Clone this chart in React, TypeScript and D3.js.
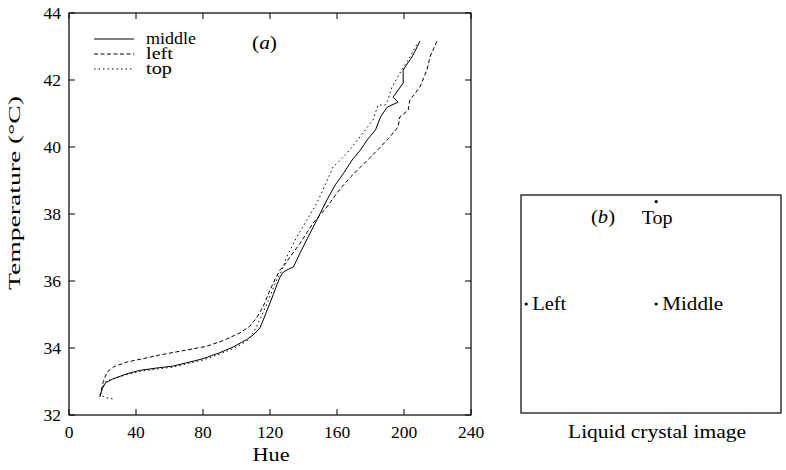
import React from "react";
import * as d3 from "d3";

const xTicks = [0, 40, 80, 120, 160, 200, 240];
const yTicks = [32, 34, 36, 38, 40, 42, 44];

const middleHue = [18.5, 20, 22, 26, 34, 42, 52, 62, 72, 80, 90, 98, 106, 110, 114, 116, 119, 122, 124.2, 126, 128, 131, 134, 138, 142.7, 148, 154, 159, 164, 169, 174, 178, 183, 186, 190, 196.5, 193.5, 199.5, 199.5, 204.8, 207, 209.5];
const middleTemp = [32.55, 32.8, 32.97, 33.07, 33.22, 33.33, 33.4, 33.46, 33.58, 33.68, 33.86, 34.03, 34.25, 34.39, 34.6, 34.84, 35.22, 35.6, 35.9, 36.12, 36.27, 36.35, 36.42, 36.84, 37.31, 37.82, 38.42, 38.87, 39.22, 39.61, 39.91, 40.21, 40.51, 40.9, 41.19, 41.34, 41.49, 41.91, 42.3, 42.69, 42.9, 43.16];

const leftHue = [18.5, 19.5, 20.5, 22.7, 27, 34.6, 44, 54, 68, 82, 92, 102, 108, 112, 116, 120, 123, 126, 129, 132, 138, 145.7, 154, 160, 163, 168, 174, 180, 186, 191.5, 196.5, 197.5, 202.5, 203.5, 209.5, 213.7, 215.5, 219.7];
const leftTemp = [32.55, 32.8, 33.0, 33.28, 33.45, 33.58, 33.68, 33.79, 33.92, 34.05, 34.22, 34.45, 34.65, 34.9, 35.25, 35.73, 36.05, 36.33, 36.5, 36.72, 37.13, 37.73, 38.21, 38.63, 38.81, 39.1, 39.4, 39.7, 40.0, 40.3, 40.6, 40.9, 41.1, 41.4, 41.79, 42.3, 42.69, 43.16];

const topHue = [26, 22, 18.5, 20, 22, 26, 34, 42, 52, 62, 72, 80, 90, 98, 106, 110, 114, 118, 122, 124.5, 127, 130, 136, 142, 148, 151.6, 157.6, 166, 173.7, 181.5, 184.5, 188.7, 190.4, 192.8, 197.6, 203.6, 208.4];
const topTemp = [32.48, 32.52, 32.6, 32.85, 33.0, 33.08, 33.2, 33.3, 33.37, 33.43, 33.55, 33.64, 33.82, 33.98, 34.2, 34.45, 34.85, 35.3, 35.8, 36.1, 36.3, 36.72, 37.31, 37.82, 38.33, 38.72, 39.4, 39.82, 40.3, 40.81, 41.25, 41.25, 41.4, 41.79, 42.21, 42.69, 43.13];

const seriesNames = ["middle", "left", "top"];
const seriesDash = ["none", "4,2.5", "1.5,3"];
const legendWidths = [50, 27, 26];

const crystalPoints = ["Top", "Left", "Middle"];
const crystalX = [0.52, 0.02, 0.52];
const crystalY = [0.03, 0.5, 0.5];
const crystalWidths = [31, 34, 61];

const FONT = "Liberation Serif, Times New Roman, Times, DejaVu Serif, serif";

export default function App() {
  const left = 69, right = 471, top = 13, bottom = 415;
  const x = d3.scaleLinear().domain([0, 240]).range([left, right]);
  const y = d3.scaleLinear().domain([32, 44]).range([bottom, top]);
  const line = d3.line<[number, number]>().x(d => x(d[0])).y(d => y(d[1]));
  const series = [
    { hue: middleHue, temp: middleTemp },
    { hue: leftHue, temp: leftTemp },
    { hue: topHue, temp: topTemp },
  ];
  const tick = 6;

  const bx0 = 521, bx1 = 781, by0 = 195, by1 = 413;
  const bxs = d3.scaleLinear().domain([0, 1]).range([bx0, bx1]);
  const bys = d3.scaleLinear().domain([0, 1]).range([by0, by1]);
  const ts = { fontFamily: FONT };

  return (
    <svg width={786} height={470} style={{ position: "absolute", left: 0, top: 0, background: "#fff", fontFamily: FONT }}>
      <rect x={0} y={0} width={786} height={470} fill="#fff" />
      <rect x={left} y={top} width={right - left} height={bottom - top} fill="none" stroke="#000" strokeWidth={1.2} />
      {xTicks.map(t => (
        <g key={"xt" + t}>
          <line x1={x(t)} x2={x(t)} y1={bottom} y2={bottom - tick} stroke="#000" strokeWidth={1} />
          <line x1={x(t)} x2={x(t)} y1={top} y2={top + tick} stroke="#000" strokeWidth={1} />
          <text x={x(t)} y={438} textAnchor="middle" fontSize={17.5} fill="#000" style={ts}>{t}</text>
        </g>
      ))}
      {yTicks.map(t => (
        <g key={"yt" + t}>
          <line x1={left} x2={left + tick} y1={y(t)} y2={y(t)} stroke="#000" strokeWidth={1} />
          <line x1={right} x2={right - tick} y1={y(t)} y2={y(t)} stroke="#000" strokeWidth={1} />
          <text x={61} y={y(t) + 6} textAnchor="end" fontSize={17.5} fill="#000" style={ts}>{t}</text>
        </g>
      ))}
      <text x={271} y={461} textAnchor="middle" fontSize={18} fill="#000" textLength={37} lengthAdjust="spacingAndGlyphs" style={ts}>Hue</text>
      <text transform="translate(20,193) rotate(-90)" textAnchor="middle" fontSize={17} fill="#000"
        textLength={194} lengthAdjust="spacingAndGlyphs" style={ts}>Temperature (°C)</text>

      {series.map((s, i) => (
        <path key={"s" + i}
          d={line(s.hue.map((h, j) => [h, s.temp[j]] as [number, number])) || ""}
          fill="none" stroke="#000" strokeWidth={1}
          strokeDasharray={seriesDash[i] === "none" ? undefined : seriesDash[i]} />
      ))}

      {seriesNames.map((n, i) => (
        <g key={"lg" + n}>
          <line x1={94} x2={134} y1={39 + i * 15} y2={39 + i * 15} stroke="#000" strokeWidth={1}
            strokeDasharray={seriesDash[i] === "none" ? undefined : seriesDash[i]} />
          <text x={146} y={44 + i * 15} fontSize={16.5} fill="#000" textLength={legendWidths[i]} lengthAdjust="spacingAndGlyphs" style={ts}>{n}</text>
        </g>
      ))}
      <text x={264.5} y={49} textAnchor="middle" fontSize={18} fill="#000" textLength={25} lengthAdjust="spacingAndGlyphs" style={ts}>(<tspan fontStyle="italic">a</tspan>)</text>

      <rect x={bx0} y={by0} width={bx1 - bx0} height={by1 - by0} fill="none" stroke="#000" strokeWidth={1.2} />
      <text x={603} y={223} textAnchor="middle" fontSize={18} fill="#000" textLength={24} lengthAdjust="spacingAndGlyphs" style={ts}>(<tspan fontStyle="italic">b</tspan>)</text>
      {crystalPoints.map((p, i) => {
        const px = bxs(crystalX[i]);
        const py = bys(crystalY[i]);
        const isTop = p === "Top";
        return (
          <g key={"cp" + p}>
            <circle cx={px} cy={py} r={1.6} fill="#000" />
            <text x={isTop ? px + 1 : px + 6} y={isTop ? py + 22 : py + 6} textAnchor={isTop ? "middle" : "start"}
              fontSize={18.5} fill="#000" textLength={crystalWidths[i]} lengthAdjust="spacingAndGlyphs" style={ts}>{p}</text>
          </g>
        );
      })}
      <text x={657} y={438} textAnchor="middle" fontSize={18} fill="#000" textLength={178} lengthAdjust="spacingAndGlyphs" style={ts}>Liquid crystal image</text>
    </svg>
  );
}
